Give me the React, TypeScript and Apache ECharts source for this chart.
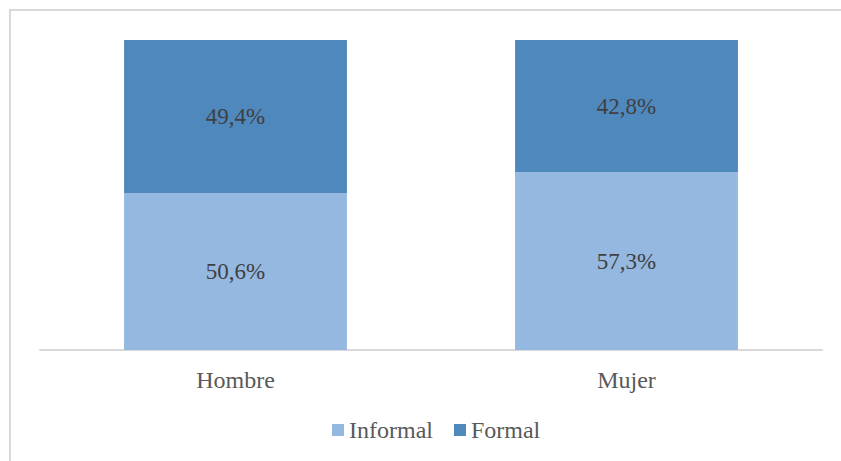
import React, { useEffect, useRef } from "react";
import * as echarts from "echarts";

const categories = ["Hombre", "Mujer"];
const informal = [50.6, 57.3];
const formal = [49.4, 42.8];
const seriesNames = ["Informal", "Formal"];

const FONT = "Liberation Serif";

export default function App() {
  const ref = useRef<HTMLDivElement>(null);

  useEffect(() => {
    if (!ref.current) return;
    const chart = echarts.init(ref.current, undefined, { renderer: "svg" });
    const label = {
      show: true,
      position: "inside" as const,
      color: "#404040",
      fontFamily: FONT,
      fontSize: 23,
      formatter: (p: any) => `${String(p.value.toFixed(1)).replace(".", ",")}%`,
    };
    chart.setOption({
      animation: false,
      backgroundColor: "#ffffff",
      graphic: [
        {
          type: "rect",
          shape: { x: 10, y: 10, width: 850, height: 470 },
          style: { fill: "none", stroke: "#d9d9d9", lineWidth: 2 },
          silent: true,
        },
      ],
      grid: { left: 40, right: 19, top: 40, bottom: 111 },
      legend: {
        left: 327,
        top: 413,
        itemWidth: 12,
        itemHeight: 12,
        itemGap: 21,
        icon: "rect",
        textStyle: { color: "#595959", fontFamily: FONT, fontSize: 24 },
        data: seriesNames,
      },
      xAxis: {
        type: "category",
        data: categories,
        axisLine: { lineStyle: { color: "#d9d9d9", width: 2 } },
        axisTick: { show: false },
        axisLabel: { color: "#595959", fontFamily: FONT, fontSize: 24, margin: 18 },
      },
      yAxis: {
        type: "value",
        min: 0,
        max: 100,
        show: false,
        splitLine: { show: false },
      },
      series: [
        {
          name: seriesNames[0],
          type: "bar",
          stack: "total",
          barWidth: "57%",
          data: informal,
          itemStyle: { color: "#95b8e0" },
          label,
        },
        {
          name: seriesNames[1],
          type: "bar",
          stack: "total",
          barWidth: "57%",
          data: formal,
          itemStyle: { color: "#4f88bd" },
          label,
        },
      ],
    });
    return () => chart.dispose();
  }, []);

  return (
    <div
      ref={ref}
      style={{ position: "fixed", left: 0, top: 0, width: 841, height: 461 }}
    />
  );
}
